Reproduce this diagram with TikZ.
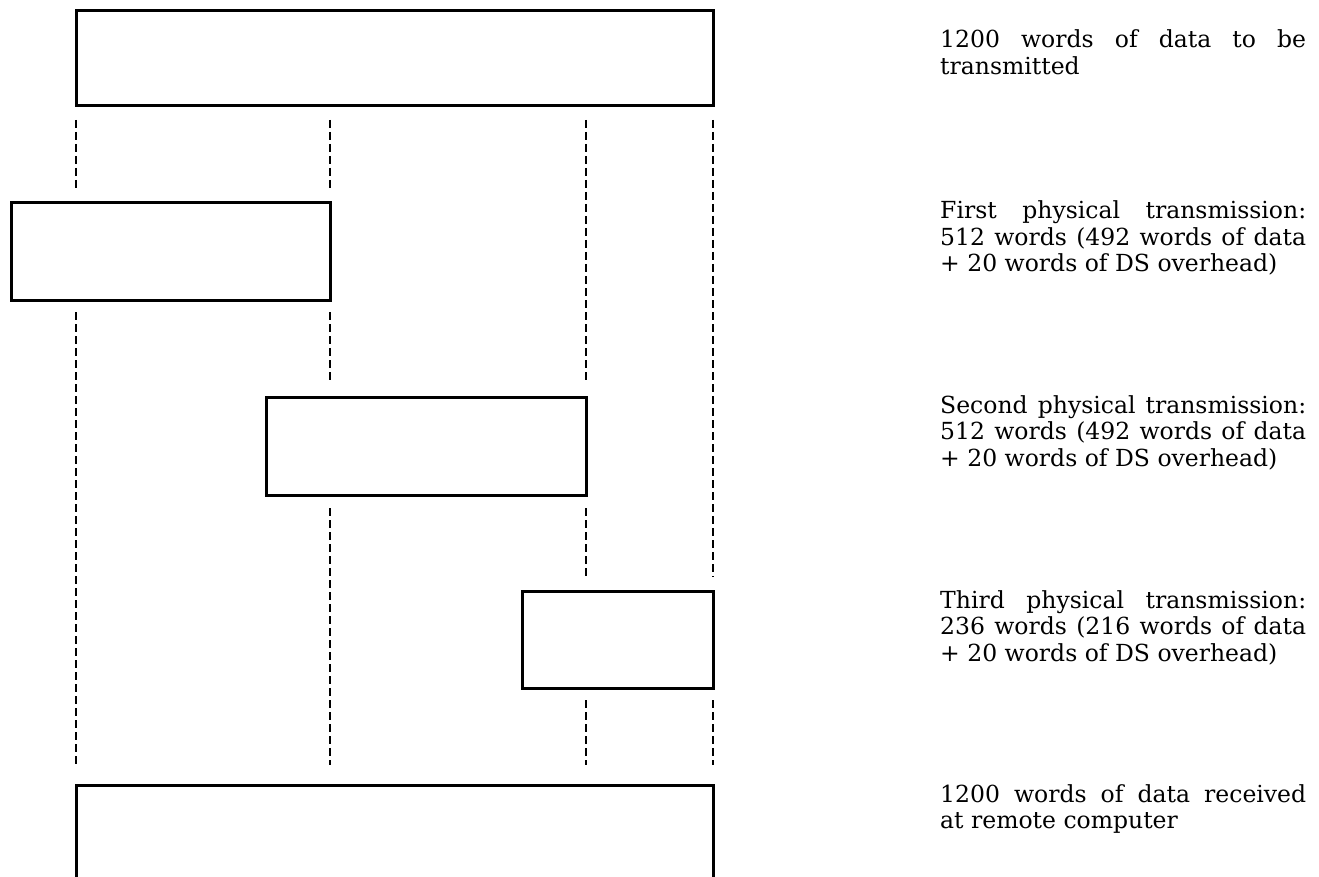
\documentclass[tikz,border=0pt]{standalone}
\usepackage{fontspec}
\setmainfont{DejaVu Serif}
\begin{document}
\begin{tikzpicture}[x=1pt,y=-1pt,
  blk/.style={draw, line width=3pt, inner sep=0pt, outer sep=0pt, anchor=north west},
  guide/.style={line width=2.4pt, dash pattern=on 8pt off 4pt},
  note/.style={anchor=base west, inner sep=0pt, text width=366pt, align=justify,
    font={\fontsize{23.5}{26.5}\selectfont\tolerance=10000\relax\hyphenpenalty=10000\relax}}]
\clip (0,0) rectangle (1319,877);
% boxes
\node[blk, minimum width=637pt, minimum height=95pt] (b1) at (76,11) {};
\node[blk, minimum width=319pt, minimum height=97pt] (b2) at (11,203) {};
\node[blk, minimum width=320pt, minimum height=98pt] (b3) at (266,397) {};
\node[blk, minimum width=191pt, minimum height=97pt] (b4) at (522,591) {};
\node[blk, minimum width=637pt, minimum height=200pt] (b5) at (76,785) {};
% guide lines
\coordinate (a1) at (76,120);  \coordinate (a2) at (76,190);
\coordinate (a3) at (76,312);  \coordinate (a4) at (76,765);
\coordinate (c1) at (330,120); \coordinate (c2) at (330,190);
\coordinate (c3) at (330,312); \coordinate (c4) at (330,382);
\coordinate (c5) at (330,508); \coordinate (c6) at (330,765);
\coordinate (d1) at (586,120); \coordinate (d2) at (586,382);
\coordinate (d3) at (586,508); \coordinate (d4) at (586,577);
\coordinate (d5) at (586,700); \coordinate (d6) at (586,765);
\coordinate (e1) at (713,120); \coordinate (e2) at (713,577);
\coordinate (e3) at (713,700); \coordinate (e4) at (713,765);
\draw[guide] (a1) -- (a2) (a3) -- (a4);
\draw[guide] (c1) -- (c2) (c3) -- (c4) (c5) -- (c6);
\draw[guide] (d1) -- (d2) (d3) -- (d4) (d5) -- (d6);
\draw[guide] (e1) -- (e2) (e3) -- (e4);
% notes
\node[note] (t1) at (940,48) {1200 words of data to be\linebreak transmitted};
\node[note] (t2) at (940,219) {First physical transmission:\linebreak 512 words (492 words of data\linebreak + 20 words of DS overhead)};
\node[note] (t3) at (940,413) {Second physical transmission:\linebreak 512 words (492 words of data\linebreak + 20 words of DS overhead)};
\node[note] (t4) at (940,608) {Third physical transmission:\linebreak 236 words (216 words of data\linebreak + 20 words of DS overhead)};
\node[note] (t5) at (940,802) {1200 words of data received\linebreak at remote computer};
\end{tikzpicture}
\end{document}
